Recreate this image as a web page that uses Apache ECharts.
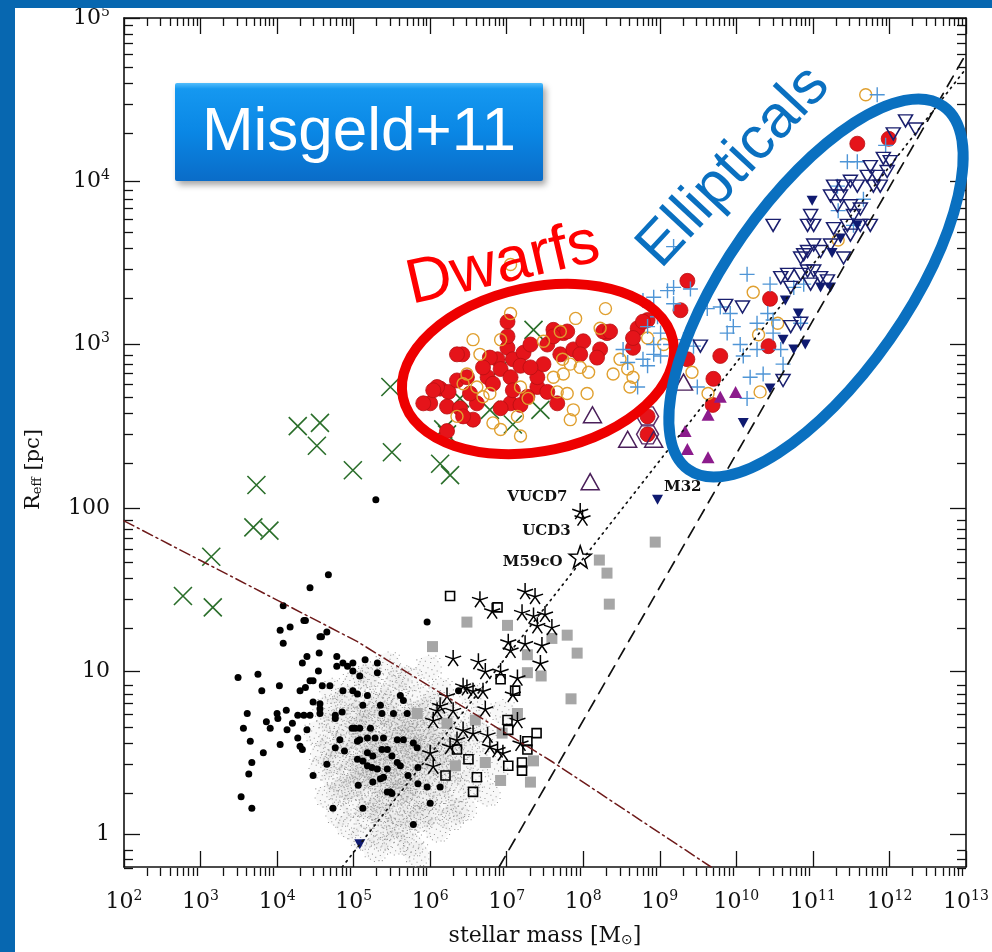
<!DOCTYPE html>
<html>
<head>
<meta charset="utf-8">
<script src="https://cdn.jsdelivr.net/npm/echarts@6/dist/echarts.min.js"></script>
<style>
  html, body { margin: 0; padding: 0; background: #ffffff; }
  #chart { width: 992px; height: 952px; }
</style>
</head>
<body>
<div id="chart"></div>
<script>
// Size-mass plane of hot stellar systems.
// Every point is [log10(M / Msun), log10(R_eff / pc)].

const massDecades = [2, 3, 4, 5, 6, 7, 8, 9, 10, 11, 12, 13];
const radiusDecades = [0, 1, 2, 3, 4, 5];
const minorSteps = [2, 3, 4, 5, 6, 7, 8, 9];

// faint globular-cluster cloud
const gcCloud = [
  [4.52,0.62],[4.58,0.41],[4.63,0.77],[4.66,0.23],[4.70,0.55],[4.72,0.88],[4.75,0.34],[4.78,0.68],[4.80,0.12],[4.83,0.47],
  [4.86,0.81],[4.88,0.29],[4.90,0.60],[4.93,0.05],[4.95,0.39],[4.97,0.72],[5.00,0.18],[5.02,0.93],[5.03,0.52],[5.06,0.31],
  [5.08,0.66],[5.10,-0.02],[5.12,0.44],[5.14,0.80],[5.16,0.11],[5.18,0.57],[5.20,0.26],[5.22,0.98],[5.24,0.70],[5.26,0.38],
  [5.28,-0.09],[5.29,0.50],[5.31,0.15],[5.33,0.85],[5.35,0.62],[5.37,0.30],[5.39,0.04],[5.41,0.74],[5.43,0.45],[5.45,1.04],
  [5.46,0.21],[5.48,0.58],[5.50,0.36],[5.52,0.90],[5.54,-0.05],[5.56,0.67],[5.58,0.13],[5.60,0.48],[5.62,0.79],[5.64,0.27],
  [5.66,0.02],[5.68,0.60],[5.70,0.41],[5.72,0.95],[5.74,0.19],[5.76,0.71],[5.78,0.33],[5.80,0.53],[5.82,-0.12],[5.84,0.84],
  [5.86,0.09],[5.88,0.64],[5.90,0.37],[5.92,0.22],[5.94,0.76],[5.96,0.47],[5.98,1.02],[6.00,0.14],[6.02,0.58],[6.04,0.31],
  [6.07,0.69],[6.09,0.03],[6.11,0.43],[6.14,0.88],[6.16,0.20],[6.18,0.55],[6.21,0.34],[6.24,0.73],[6.27,0.10],[6.30,0.49],
  [6.33,0.27],[6.36,0.63],[6.40,0.40],[6.44,0.16],[6.48,0.56],[6.52,0.32],[6.57,0.70],[6.62,0.45],
  [5.05,0.42],[5.15,0.35],[5.25,0.55],[5.32,0.40],[5.40,0.52],[5.47,0.30],[5.55,0.44],[5.62,0.58],[5.70,0.28],[5.77,0.46],
  [5.85,0.52],[5.93,0.38],[6.05,0.45],[5.35,0.20],[5.50,0.66],[5.65,0.35],[5.80,0.65],[5.20,0.72],[5.45,0.82],[5.95,0.60],
  [5.58,0.25],[5.28,0.33],[5.72,0.52],[5.10,0.58],[6.12,0.62],
  [6.55,0.85],[6.70,0.60],[6.85,0.40],[6.95,0.75],[6.75,0.25],
  [4.60,0.50],[4.68,0.70],[4.74,0.44],[4.81,0.26],[4.87,0.56],[4.92,0.84],[4.98,0.28],[5.04,0.74],[5.09,0.37],[5.13,0.66],
  [5.19,0.16],[5.23,0.46],[5.27,0.80],[5.34,0.53],[5.38,0.12],[5.42,0.36],[5.49,0.72],[5.53,0.50],[5.57,0.06],[5.61,0.34],
  [5.67,0.70],[5.71,0.10],[5.75,0.60],[5.79,0.24],[5.83,0.74],[5.87,0.44],[5.91,0.12],[5.97,0.54],[6.03,0.80],[6.08,0.26],
  [6.13,0.50],[6.19,0.74],[6.23,0.40],[6.28,0.60],[6.34,0.14],[6.39,0.53],[5.16,0.96],[5.60,0.96],[5.36,-0.02],[5.74,-0.06]
];

// individual star clusters (filled black dots)
const clusters = [
  [4.37,1.31],[4.04,1.25],[4.17,1.27],[4.08,1.17],[4.56,1.21],[4.65,1.24],
  [3.49,0.96],[3.75,0.98],[3.80,0.88],[3.61,0.74],[3.56,0.65],[3.86,0.69],[3.91,0.65],[4.03,0.91],[4.04,0.55],[3.65,0.57],
  [3.67,0.44],[3.63,0.37],[3.53,0.23],[3.67,0.16],[3.82,0.50],[4.00,0.74],[4.01,0.71],[4.12,0.76],[4.13,0.64],[4.20,0.68],
  [4.27,0.73],[4.35,0.73],[4.43,0.73],[4.30,0.88],[4.37,0.90],[4.43,0.94],[4.47,0.94],[4.54,1.00],[4.59,0.91],[4.69,0.91],
  [4.33,1.05],[4.39,1.09],[4.55,1.11],[4.78,1.09],[4.78,1.03],[4.86,1.05],[4.92,1.03],[4.99,1.05],[4.99,1.00],[5.08,0.97],
  [5.15,1.07],[5.31,1.05],[5.31,0.99],
  [4.39,0.64],[4.27,0.59],[4.30,0.54],[4.33,0.52],[4.47,0.36],[4.56,0.80],[4.56,0.77],[4.47,0.81],[4.56,0.74],[4.76,0.73],
  [4.76,0.71],[4.86,0.88],[4.99,0.88],[5.05,0.86],[5.18,0.85],[5.12,0.79],[5.35,0.79],[4.85,0.75],[4.82,0.58],[4.76,0.53],
  [4.88,0.51],[4.65,0.43],[4.98,0.65],[5.02,0.65],[5.08,0.65],[5.22,0.65],[5.05,0.57],[5.08,0.58],[5.18,0.59],[5.28,0.59],
  [5.39,0.59],[5.05,0.46],[5.12,0.45],[5.18,0.50],[5.25,0.48],[5.18,0.42],[5.24,0.41],[5.31,0.40],[5.44,0.40],[5.37,0.52],
  [5.44,0.52],[5.50,0.48],[5.57,0.44],[5.35,0.34],[5.39,0.35],[5.06,0.30],[5.25,0.32],[5.44,0.26],[5.50,0.25],[5.61,0.42],
  [5.57,0.58],[5.65,0.58],[5.78,0.56],[5.61,0.85],[5.65,0.82],[5.83,0.53],[5.71,0.36],[5.70,0.74],[5.52,0.74],[5.37,0.74],
  [5.84,0.41],[5.84,0.31],[5.96,0.29],[6.13,0.29],[6.00,0.19],[5.78,0.06],[5.48,0.26],[4.73,0.16],[5.12,0.16],[5.96,1.30],
  [5.29,2.05],[4.67,1.59],[4.43,1.51],[4.08,1.40],[4.35,1.31],[4.58,1.21],[6.37,0.88]
];

const ucdStars = [
  [6.65,1.44],[6.81,1.37],[7.24,1.49],[7.37,1.46],[7.20,1.36],[7.35,1.34],[7.50,1.35],[7.40,1.28],[7.59,1.27],[7.02,1.18],
  [7.24,1.17],[7.46,1.16],[7.05,1.13],[6.30,1.08],[6.63,1.06],[6.72,1.00],[6.92,1.00],[7.44,1.05],[7.14,0.96],[6.43,0.91],
  [6.56,0.88],[6.69,0.88],[6.22,0.85],[7.08,0.86],[6.72,0.77],[6.13,0.79],[6.04,0.70],[6.30,0.76],[6.43,0.64],[6.56,0.62],
  [6.75,0.61],[7.14,0.70],[7.18,0.56],[6.88,0.52],[6.78,0.54],[6.95,0.50],[6.00,0.50],[6.04,0.42],[6.26,0.54],[6.35,0.58],
  [6.09,0.76],[6.48,0.90]
];

const openSquares = [
  [6.26,1.46],[6.88,1.39],[6.92,0.95],[7.11,0.88],[7.01,0.70],[7.02,0.64],[7.39,0.62],[7.27,0.57],[7.27,0.52],[7.20,0.44],
  [7.20,0.39],[7.02,0.42],[6.50,0.46],[6.61,0.35],[6.56,0.26],[6.20,0.36],[6.35,0.52]
];

const greySquares = [
  [8.94,1.79],[8.21,1.68],[8.31,1.60],[8.34,1.41],[6.48,1.30],[7.01,1.28],[7.79,1.22],[7.59,1.20],[7.92,1.11],[6.03,1.15],
  [7.27,1.10],[7.27,0.99],[7.45,0.97],[7.84,0.83],[7.14,0.74],[6.59,0.70],[6.22,0.68],[5.83,0.74],[6.94,0.62],[7.35,0.45],
  [6.72,0.44],[6.92,0.33],[7.31,0.32],[6.33,0.42]
];

const greenCrosses = [
  [2.77,1.46],[3.16,1.39],[3.14,1.70],[3.69,1.88],[3.90,1.86],[3.73,2.14],[4.27,2.50],[4.56,2.52],[4.52,2.38],[4.99,2.23],
  [5.50,2.34],[5.48,2.74],[6.13,2.27],[6.26,2.20],[6.17,2.48],[6.22,2.45],[6.39,2.67],[6.78,2.60],[7.08,2.51],[7.44,2.60],
  [6.95,2.87],[7.35,3.09]
];

const redDwarfs = [
  [7.01,3.14],[6.42,2.94],[6.13,2.73],[6.24,2.71],[6.00,2.64],[6.22,2.62],[6.39,2.61],[6.56,2.54],[6.61,2.64],[6.52,2.70],
  [6.75,2.80],[6.88,2.91],[7.01,2.98],[7.08,2.91],[7.22,2.95],[7.18,2.87],[6.92,2.85],[6.82,2.76],[7.05,2.80],[7.31,3.00],
  [7.40,2.74],[7.53,2.71],[7.66,2.64],[7.05,2.64],[7.18,2.63],[6.92,2.61],[7.40,2.80],[7.48,2.88],[7.53,3.00],[7.61,3.09],
  [7.74,3.07],[7.70,2.94],[7.87,2.97],[8.00,3.02],[7.96,2.94],[8.22,2.97],[8.31,3.07],[8.18,2.92],[8.71,3.10],[8.84,3.15],
  [8.65,2.98],[8.65,3.04],[9.27,3.21],[9.36,3.39],[9.36,2.91],[6.22,2.47],[6.43,2.56],[6.09,2.74],[6.35,2.78],[6.48,2.80],
  [6.78,2.92],[6.69,2.86],[7.31,2.86],[7.01,3.05],[7.61,3.05],[7.08,2.72],[7.27,2.68],[7.79,3.08],[8.26,3.08],[8.35,3.08],
  [8.78,3.14],[9.79,2.93],[9.70,2.79],[9.69,2.63],[8.84,2.56],[8.84,2.45],[10.44,3.28],[10.42,2.99],[11.58,4.23],[11.99,4.26],
  [5.91,2.64],[6.04,2.72],[6.35,2.94]
];

const hexFramed = [[8.84,2.56],[8.84,2.45]];

const orangeCircles = [
  [8.29,3.22],[7.90,3.16],[8.22,3.10],[7.70,3.08],[7.48,3.02],[7.73,2.91],[7.83,2.88],[7.96,2.86],[8.07,2.83],[7.74,2.82],
  [7.61,2.80],[7.79,2.70],[7.66,2.71],[8.05,2.70],[7.87,2.60],[7.83,2.54],[7.14,2.56],[7.18,2.44],[6.92,2.48],[6.82,2.52],
  [6.78,2.70],[6.69,2.68],[6.61,2.74],[6.35,2.56],[6.43,2.76],[6.48,2.82],[6.65,2.94],[6.56,3.03],[6.92,3.03],[7.05,3.19],
  [7.18,2.74],[7.28,2.67],[8.48,2.91],[8.58,2.85],[8.65,2.80],[8.61,2.74],[8.39,2.82],[8.84,3.04],[9.05,3.00],[9.42,2.83],
  [9.63,2.70],[7.05,3.49],[11.69,4.53],[11.33,3.64],[10.22,3.32],[10.29,3.06],[10.54,3.13],[10.31,2.71]
];

const bluePlus = [
  [10.14,3.43],[9.18,3.35],[9.40,3.34],[9.62,3.22],[8.92,3.29],[9.18,3.25],[9.96,3.11],[9.88,3.07],[10.05,3.00],[10.09,2.93],
  [10.27,3.13],[10.41,3.19],[10.48,3.15],[10.48,3.07],[10.58,2.97],[10.27,2.97],[10.18,2.80],[10.14,2.67],[10.35,2.82],[10.61,2.88],
  [9.49,2.74],[9.44,2.99],[9.92,3.19],[10.84,3.13],[9.31,3.03],[8.92,3.00],[9.01,2.93],[8.84,2.87],[11.84,4.53],[11.45,4.12],
  [11.58,4.12],[11.95,4.22],[11.32,3.97],[11.66,3.89],[11.33,3.82],[10.44,3.37],[10.75,3.35],[10.88,3.37],[9.18,3.60],[9.10,3.33],
  [8.78,3.27],[8.97,3.17],[8.84,3.11],[9.01,3.07],[8.92,2.94],[8.78,2.91],[8.52,2.97],[9.14,3.00],[9.79,3.23],[8.58,2.89],
  [8.71,2.74],[11.53,3.73]
];

const ellipticalsOpen = [
  [12.21,4.37],[12.34,4.32],[12.05,4.29],[11.92,4.14],[12.01,4.12],[11.75,4.09],[11.84,4.03],[11.71,4.03],[11.97,4.06],[11.79,3.97],
  [11.27,3.97],[11.40,3.97],[11.49,4.00],[11.23,3.91],[11.36,3.91],[11.58,3.97],[11.88,3.97],[10.97,3.79],[10.93,3.73],[11.01,3.73],
  [10.48,3.73],[11.32,3.85],[11.49,3.85],[11.62,3.83],[11.75,3.73],[11.62,3.73],[11.45,3.73],[11.53,3.79],[11.27,3.71],[11.49,3.67],
  [10.93,3.57],[11.01,3.61],[10.84,3.53],[11.10,3.57],[11.23,3.61],[11.40,3.53],[10.67,3.43],[10.58,3.41],[10.84,3.43],[10.93,3.45],
  [11.01,3.45],[11.10,3.41],[11.19,3.39],[10.97,3.37],[10.71,3.35],[9.86,3.24],[10.08,3.23],[9.53,2.99],[10.61,2.78],[10.88,3.55],
  [10.71,3.11],[10.84,3.13]
];

const ellipticalsFilled = [
  [10.64,3.27],[10.81,3.19],[10.61,3.03],[10.75,2.97],[10.90,3.00],[10.44,2.73],[10.09,2.52],[11.10,3.35],[11.23,3.35],[10.99,3.88],
  [11.25,3.56],[11.36,3.65],[11.58,3.73],[5.08,-0.06]
];

const compactEllipticals = [[9.79,2.68],[9.99,2.71],[9.63,2.57],[9.33,2.47],[9.36,2.36],[9.63,2.31]];
const openTriangles = [[8.12,2.57],[8.58,2.42],[8.92,2.42],[9.31,2.77],[8.09,2.16]];

// named objects
const vucd7 = [7.96, 1.98];
const ucd3 = [7.99, 1.94];
const m59co = [7.96, 1.70];
const m32 = [8.97, 2.05];

// reference relations
const dottedRelation = [[4.85, -0.2], [13, 4.69]];
const dashedRelation = [[6.9, -0.2], [13, 4.78]];
const dashDotRelation = [[2, 1.92], [5.05, 1.18], [7.61, 0.44], [9.67, -0.2]];

// ---------------------------------------------------------------------------
const xMin = 2, xMax = 13, yMin = -0.2, yMax = 5;
const serif = '"DejaVu Serif", "Liberation Serif", serif';
const sans = '"Liberation Sans", Arial, sans-serif';

const xMinor = [];
massDecades.slice(0, -1).forEach(d => minorSteps.forEach(k => xMinor.push(d + Math.log10(k))));
const yMinor = [];
[-1, 0, 1, 2, 3, 4].forEach(d => minorSteps.forEach(k => {
  const v = d + Math.log10(k);
  if (v > yMin && v < yMax) yMinor.push(v);
}));

// stipple marker: a patch of fine grains inside a 40x40 box
const grainOffsets = [
  [19,0],[8,5],[27,4],[14,9],[33,10],[22,11],[4,14],[11,16],[28,16],[38,18],[18,19],[0,21],
  [24,22],[32,24],[8,25],[15,27],[38,27],[27,29],[4,31],[20,32],[34,33],[12,35],[25,37],[18,38.4],
  [6,10],[30,1],[36,5],[1,7],[23,5],[9,30],[30,37]
];
const stipplePath = 'path://' + grainOffsets.map(([x, y]) =>
  `M${x},${y}L${x + 1.6},${y}L${x + 1.6},${y + 1.6}L${x},${y + 1.6}Z`).join('');

const SYM = {
  cross: 'path://M0,0L10,10M10,0L0,10',
  plus: 'path://M5,0L5,10M0,5L10,5',
  triDown: 'path://M0,0L10,0L5,8.66Z',
  triUp: 'path://M5,0L10,8.66L0,8.66Z',
  asterisk: 'path://M5,5L5,0M5,5L9.755,3.455M5,5L7.939,9.045M5,5L2.061,9.045M5,5L0.245,3.455',
  star: 'path://M5,0L6.18,3.38L9.76,3.45L6.9,5.62L7.94,9.05L5,7L2.06,9.05L3.1,5.62L0.24,3.45L3.82,3.38Z',
  hexagon: 'path://M2.5,0L7.5,0L10,4.33L7.5,8.66L2.5,8.66L0,4.33Z',
  stipple: stipplePath
};

const supRich = {
  sup: { fontSize: 14, lineHeight: 16, verticalAlign: 'top', fontFamily: serif, color: '#111' }
};

function tickAxis(pos, grid, values, len, line, labels) {
  const horizontal = pos === 'top' || pos === 'bottom';
  const ax = {
    type: 'value', gridIndex: grid, position: pos,
    min: horizontal ? xMin : yMin, max: horizontal ? xMax : yMax,
    splitLine: { show: false },
    axisLine: { show: line, onZero: false, lineStyle: { color: '#111', width: 1.6 } },
    axisTick: { show: true, inside: true, length: len, customValues: values,
                lineStyle: { color: '#111', width: 1.3 } },
    axisLabel: { show: false }
  };
  if (labels) ax.axisLabel = labels;
  return ax;
}

const xLabels = {
  show: true, customValues: massDecades, margin: 22,
  fontFamily: serif, fontSize: 22, color: '#111', lineHeight: 26,
  formatter: v => '10{sup|' + Math.round(v) + '}',
  rich: supRich
};
const yLabels = {
  show: true, customValues: radiusDecades, margin: 14,
  fontFamily: serif, fontSize: 22, color: '#111', lineHeight: 26,
  formatter: v => {
    const n = Math.round(v);
    return n <= 2 ? String(Math.pow(10, n)) : '10{sup|' + n + '}';
  },
  rich: supRich
};

const xMain = tickAxis('bottom', 0, massDecades, 16, true, xLabels);
xMain.name = 'stellar mass [M{sub|⊙}]';
xMain.nameLocation = 'middle';
xMain.nameGap = 58;
xMain.nameTextStyle = { fontFamily: serif, fontSize: 22, color: '#111',
  rich: { sub: { fontSize: 14, verticalAlign: 'bottom', lineHeight: 14, fontFamily: 'DejaVu Sans', color: '#111' } } };

const yMain = tickAxis('left', 0, radiusDecades, 16, true, yLabels);
yMain.name = 'R{sub|eff} [pc]';
yMain.nameLocation = 'middle';
yMain.nameGap = 80;
yMain.nameTextStyle = { fontFamily: serif, fontSize: 21, color: '#111', padding: [0, 54, 0, 0],
  rich: { sub: { fontSize: 13, verticalAlign: 'bottom', lineHeight: 13, fontFamily: serif, color: '#111' } } };

const gridBox = { left: 124, top: 18, width: 842, height: 858 };

function scatter(name, data, symbol, size, style, z) {
  return {
    type: 'scatter', name, data, symbol, symbolSize: size,
    xAxisIndex: 0, yAxisIndex: 0, itemStyle: Object.assign({ opacity: 1 }, style), z: z || 2,
    silent: true, animation: false, large: false
  };
}
const hollow = (c, w) => ({ color: 'rgba(0,0,0,0)', borderColor: c, borderWidth: w });

function relation(data, type, color, width) {
  return {
    type: 'line', data, xAxisIndex: 0, yAxisIndex: 0, showSymbol: false, symbol: 'none',
    lineStyle: { color, width, type, cap: 'round' }, silent: true, animation: false, z: 3
  };
}

function named(text, point, symbol, size, style, pos, dist, offset) {
  return {
    type: 'scatter', data: [point], symbol, symbolSize: size, xAxisIndex: 0, yAxisIndex: 0,
    itemStyle: Object.assign({ opacity: 1 }, style), silent: true, animation: false, z: 6,
    label: { show: true, formatter: text, position: pos, distance: dist, offset,
             fontFamily: serif, fontWeight: 'bold', fontSize: 15, color: '#111' }
  };
}

const option = {
  backgroundColor: '#ffffff',
  animation: false,
  grid: [Object.assign({}, gridBox), Object.assign({}, gridBox)],
  xAxis: [
    xMain,
    tickAxis('top', 0, massDecades, 16, true),
    tickAxis('bottom', 1, xMinor, 8, false),
    tickAxis('top', 1, xMinor, 8, false)
  ],
  yAxis: [
    yMain,
    tickAxis('right', 0, radiusDecades, 16, true),
    tickAxis('left', 1, yMinor, 9, false),
    tickAxis('right', 1, yMinor, 9, false)
  ],
  series: [
    scatter('GC haze', gcCloud, 'circle', 24, { color: 'rgba(175,175,175,0.09)' }, 1),
    scatter('GC grains', gcCloud, SYM.stipple, 26, { color: '#9a9a9a' }, 1),
    scatter('clusters', clusters, 'circle', 7, { color: '#000000' }),
    relation(dashDotRelation, [11, 4, 2, 4], '#6e1a1a', 1.5),
    relation(dottedRelation, [1.5, 5], '#111', 1.7),
    relation(dashedRelation, [12, 8], '#111', 1.7),
    scatter('grey squares', greySquares, 'rect', 11, { color: '#a6a6a6' }),
    scatter('open squares', openSquares, 'rect', 9, hollow('#000', 1.6)),
    scatter('UCDs', ucdStars, SYM.asterisk, 16, hollow('#000', 1.5)),
    scatter('green', greenCrosses, SYM.cross, 18, hollow('#2a6e2a', 1.6)),
    scatter('dwarfs', redDwarfs, 'circle', 15, { color: '#e5141a', borderColor: '#b80f12', borderWidth: 0.8 }),
    scatter('orange', orangeCircles, 'circle', 12, hollow('#e0a030', 1.4)),
    scatter('hex', hexFramed, SYM.hexagon, [22, 19], hollow('#5a2c6a', 1.4)),
    scatter('plus', bluePlus, SYM.plus, 15, hollow('#4f95d6', 1.4)),
    scatter('E open', ellipticalsOpen, SYM.triDown, [14, 12], hollow('#1a1f6e', 1.5)),
    scatter('E filled', ellipticalsFilled, SYM.triDown, [11, 10], { color: '#0f1a70' }),
    scatter('cE filled', compactEllipticals, SYM.triUp, [13, 12], { color: '#8c1b8c' }),
    scatter('open tri', openTriangles, SYM.triUp, [18, 16], hollow('#4a1f5a', 1.5)),
    named('VUCD7', vucd7, SYM.asterisk, 16, hollow('#000', 1.5), 'left', 4, [0, -14]),
    named('UCD3', ucd3, SYM.asterisk, 16, hollow('#000', 1.5), 'left', 3, [0, 14]),
    named('M59cO', m59co, SYM.star, 22, hollow('#000', 1.5), 'left', 6, [0, 5]),
    named('M32', m32, SYM.triDown, [11, 10], { color: '#0f1a70' }, 'right', 1, [0, -13])
  ],
  graphic: [
    { type: 'rect', shape: { x: 0, y: 0, width: 15, height: 952 }, style: { fill: '#0767b0' }, z: 100, silent: true },
    { type: 'rect', shape: { x: 0, y: 0, width: 992, height: 8 }, style: { fill: '#0767b0' }, z: 100, silent: true },
    {
      type: 'rect', shape: { x: 175, y: 83, width: 368, height: 98, r: 2 }, z: 100, silent: true,
      style: {
        fill: { type: 'linear', x: 0, y: 0, x2: 0, y2: 1, colorStops: [
          { offset: 0, color: '#52bdfb' }, { offset: 0.06, color: '#1598f0' },
          { offset: 0.5, color: '#0a87e5' }, { offset: 1, color: '#0a6cc8' } ] },
        shadowBlur: 6, shadowOffsetX: 3, shadowOffsetY: 4, shadowColor: 'rgba(0,0,0,0.35)'
      }
    },
    {
      type: 'text', x: 359, y: 133, z: 101, silent: true,
      style: { text: 'Misgeld+11', fill: '#ffffff', fontSize: 62, fontFamily: sans,
               align: 'center', verticalAlign: 'middle', textAlign: 'center', textVerticalAlign: 'middle',
               shadowBlur: 3, shadowColor: 'rgba(0,0,0,0.35)', shadowOffsetX: 1, shadowOffsetY: 1 }
    },
    {
      type: 'ellipse', x: 538, y: 369, rotation: 12 * Math.PI / 180, z: 5, silent: true,
      shape: { cx: 0, cy: 0, rx: 138, ry: 82 },
      style: { fill: null, stroke: '#ee0000', lineWidth: 10 }
    },
    {
      type: 'ellipse', x: 816, y: 288, rotation: 55 * Math.PI / 180, z: 5, silent: true,
      shape: { cx: 0, cy: 0, rx: 222, ry: 90 },
      style: { fill: null, stroke: '#0a70c0', lineWidth: 11 }
    },
    {
      type: 'text', x: 503, y: 265, rotation: 13 * Math.PI / 180, z: 101, silent: true,
      style: { text: 'Dwarfs', fill: '#ff0000', fontSize: 63, fontFamily: sans,
               align: 'center', verticalAlign: 'middle', textAlign: 'center', textVerticalAlign: 'middle' }
    },
    {
      type: 'text', x: 734, y: 167, rotation: 47 * Math.PI / 180, z: 101, silent: true,
      style: { text: 'Ellipticals', fill: '#0a70c0', fontSize: 60, fontFamily: sans,
               align: 'center', verticalAlign: 'middle', textAlign: 'center', textVerticalAlign: 'middle' }
    }
  ]
};

const chart = echarts.init(document.getElementById('chart'), null, { renderer: 'canvas' });
chart.setOption(option);
</script>
</body>
</html>
